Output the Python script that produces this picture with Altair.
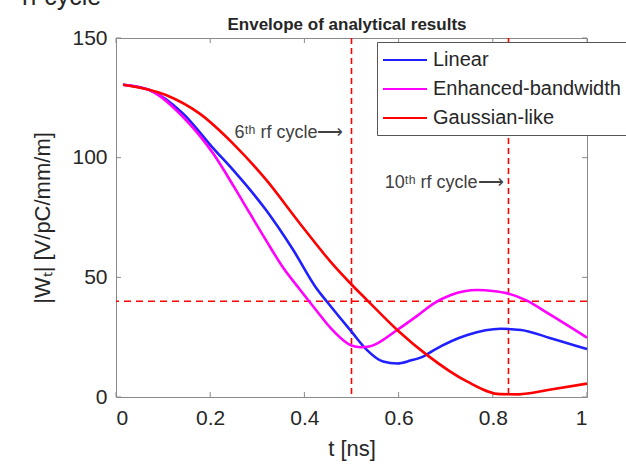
import altair as alt
import pandas as pd

# ---- data ----
series_names = ["Linear", "Enhanced-bandwidth", "Gaussian-like"]
series_colors = ["#1f1fff", "#ff00ff", "#ff0000"]

lin_t = [0.015, 0.071, 0.142, 0.206, 0.248, 0.319, 0.376, 0.427, 0.448, 0.5, 0.533,
         0.567, 0.597, 0.625, 0.654, 0.675, 0.746, 0.817, 0.86, 0.921, 1.0]
lin_w = [130.5, 128.3, 118.5, 104, 95, 78, 61.5, 45, 39.8, 27.3, 19.6,
         14.8, 14.0, 15.2, 17.1, 19.6, 25.9, 28.5, 28, 24.7, 20]

enh_t = [0.015, 0.071, 0.142, 0.206, 0.25, 0.284, 0.32, 0.355, 0.39, 0.42, 0.462,
         0.5, 0.52, 0.54, 0.597, 0.64, 0.675, 0.711, 0.767, 0.8, 0.831, 0.87, 0.921, 1.0]
enh_w = [130.5, 128.3, 117.1, 101.8, 88, 76.8, 65, 54, 45, 37.5, 27.5,
         21.5, 20.8, 21.2, 28, 34, 39.1, 42.6, 44.7, 44.3, 43.3, 40.5, 34.5, 24.8]

gau_t = [0.015, 0.106, 0.177, 0.248, 0.319, 0.39, 0.46, 0.5, 0.533, 0.6, 0.66,
         0.746, 0.815, 0.855, 0.92, 1.0]
gau_w = [130.5, 126.2, 118.5, 106, 90.7, 72.6, 55.5, 47, 40.5, 27.5, 17.6,
         6.4, 1.2, 1.1, 3.0, 5.6]

cycle_t = [0.5, 0.8333]          # 6th and 10th rf cycle
threshold_w = [40]

ann_labels = ["6ᵗʰ rf cycle⟶", "10ᵗʰ rf cycle⟶"]
ann_t = [0.483, 0.823]
ann_w = [108.2, 87.3]

x_ticks = [0, 0.2, 0.4, 0.6, 0.8, 1.0]
y_ticks = [0, 50, 100, 150]

title_text = "Envelope of analytical results"
fragment_text = "rf cycle"

# ---- layout ----
W_PLOT, H_PLOT = 471, 359
FONT = "Liberation Sans"
GRAY = "#8a8a8a"
TXT = "#262626"

rows = []
for name, ts, ws in zip(series_names, [lin_t, enh_t, gau_t], [lin_w, enh_w, gau_w]):
    for t, w in zip(ts, ws):
        rows.append({"series": name, "t": t, "W": w})
df = pd.DataFrame(rows)

x_enc = alt.X(
    "t:Q",
    scale=alt.Scale(domain=[0, 1], nice=False),
    axis=alt.Axis(
        values=x_ticks, format="~g", title="t [ns]", grid=False, domain=False,
        ticks=False, labelPadding=10, labelFontSize=21, labelFont=FONT,
        labelColor=TXT, titleFontSize=22, titleFont=FONT, titleColor=TXT,
        titleFontWeight="normal", titlePadding=10,
    ),
)
y_enc = alt.Y(
    "W:Q",
    scale=alt.Scale(domain=[0, 150], nice=False),
    axis=alt.Axis(
        values=y_ticks, title="|Wₜ| [V/pC/mm/m]", grid=False, domain=False,
        ticks=False, labelPadding=9, labelFontSize=21, labelFont=FONT,
        labelColor=TXT, titleFontSize=22, titleFont=FONT, titleColor=TXT,
        titleFontWeight="normal", titlePadding=17,
    ),
)

lines = alt.Chart(df).mark_line(strokeWidth=2.6, interpolate="monotone").encode(
    x=x_enc,
    y=y_enc,
    color=alt.Color(
        "series:N",
        scale=alt.Scale(domain=series_names, range=series_colors),
        legend=alt.Legend(
            orient="none", legendX=261, legendY=4, title=None,
            symbolType="M-1.2,0H3.2", symbolSize=400, symbolStrokeWidth=1.8,
            labelFontSize=20, labelFont=FONT, labelColor=TXT,
            strokeColor="#555555", fillColor="white", padding=7,
            rowPadding=8, labelOffset=27, labelLimit=400,
        ),
    ),
    detail="series:N",
)

vlines = alt.Chart(pd.DataFrame({"t": cycle_t})).mark_rule(
    color="#ff0000", strokeDash=[6, 4], strokeWidth=1.6
).encode(x=x_enc)

hline = alt.Chart(pd.DataFrame({"W": threshold_w})).mark_rule(
    color="#ff0000", strokeDash=[7, 5], strokeWidth=1.6
).encode(y=y_enc)

ann = alt.Chart(pd.DataFrame({"t": ann_t, "W": ann_w, "label": ann_labels})).mark_text(
    align="right", baseline="alphabetic", fontSize=18, font=FONT, color="#404040"
).encode(x=x_enc, y=y_enc, text="label:N")

xt_df = pd.DataFrame({"t": x_ticks})
yt_df = pd.DataFrame({"W": y_ticks})
tick_bottom = alt.Chart(xt_df).mark_rule(color=GRAY, strokeWidth=1).encode(
    x=x_enc, y=alt.value(H_PLOT), y2=alt.value(H_PLOT - 5))
tick_top = alt.Chart(xt_df).mark_rule(color=GRAY, strokeWidth=1).encode(
    x=x_enc, y=alt.value(0), y2=alt.value(5))
tick_left = alt.Chart(yt_df).mark_rule(color=GRAY, strokeWidth=1).encode(
    y=y_enc, x=alt.value(0), x2=alt.value(5))
tick_right = alt.Chart(yt_df).mark_rule(color=GRAY, strokeWidth=1).encode(
    y=y_enc, x=alt.value(W_PLOT - 5), x2=alt.value(W_PLOT))

title_mark = alt.Chart(pd.DataFrame({"label": [title_text]})).mark_text(
    align="center", baseline="alphabetic", fontSize=17, font=FONT,
    fontWeight="bold", color=TXT
).encode(x=alt.value(231), y=alt.value(-8), text="label:N")

fragment = alt.Chart(pd.DataFrame({"label": [fragment_text]})).mark_text(
    align="left", baseline="alphabetic", fontSize=25, font=FONT, color=TXT
).encode(x=alt.value(-94), y=alt.value(-33), text="label:N")

chart = alt.layer(
    tick_bottom, tick_top, tick_left, tick_right,
    vlines, hline, lines, ann, title_mark, fragment,
).properties(
    width=W_PLOT,
    height=H_PLOT,
    autosize=alt.AutoSizeParams(type="none"),
    padding={"left": 116, "top": 38, "right": 39, "bottom": 71},
    background="white",
).configure_view(
    stroke=GRAY, strokeWidth=1
)

chart.save("out.html", embed_options={"renderer": "svg", "actions": False})
